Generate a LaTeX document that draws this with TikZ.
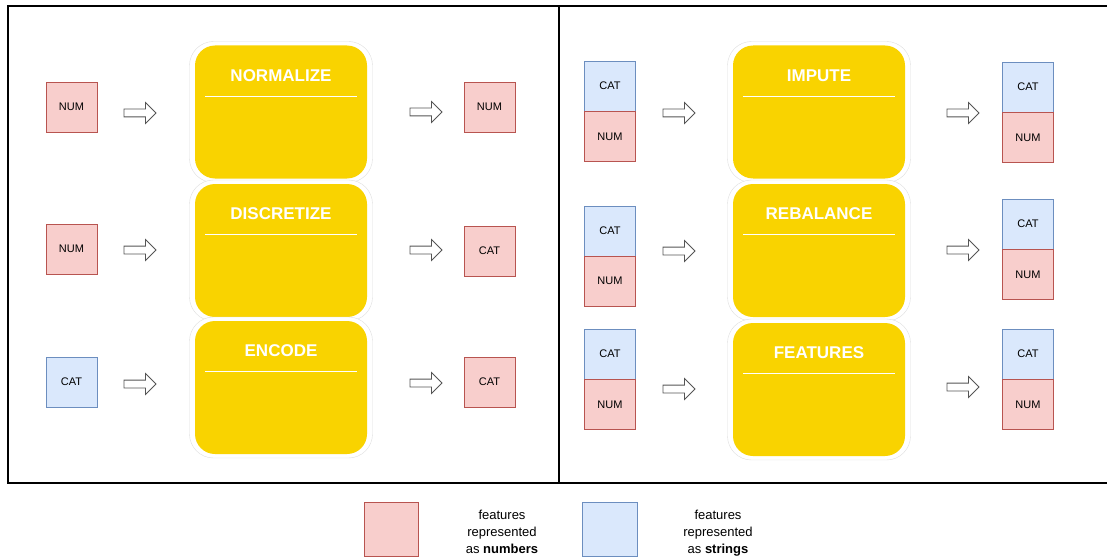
\documentclass[tikz,border=0pt]{standalone}
\usepackage{fontspec}
\setmainfont{Liberation Sans}
\usetikzlibrary{shapes.arrows}

\definecolor{numfill}{HTML}{F8CECC}
\definecolor{numdraw}{HTML}{B85450}
\definecolor{catfill}{HTML}{DAE8FC}
\definecolor{catdraw}{HTML}{6C8EBF}
\definecolor{stagefill}{HTML}{F9D300}
\definecolor{halodraw}{HTML}{DEDEDE}
\definecolor{arrowgray}{HTML}{555555}

\tikzset{
  feat/.style={draw, minimum width=51pt, minimum height=50pt, inner sep=0pt,
    font=\fontsize{11}{13}\selectfont},
  numbox/.style={feat, fill=numfill, draw=numdraw},
  catbox/.style={feat, fill=catfill, draw=catdraw},
  flow/.style={single arrow, draw=arrowgray, fill=white, line width=0.8pt,
    minimum height=32pt, inner sep=3.5pt, single arrow head extend=6.5pt,
    single arrow head indent=0pt},
  halo/.style={draw=halodraw, fill=white, rounded corners=24pt,
    minimum width=183pt, minimum height=141pt, inner sep=0pt},
  stage/.style={fill=stagefill, rounded corners=20pt,
    minimum width=172pt, minimum height=133pt, inner sep=0pt},
  stagetitle/.style={text=white, font=\fontsize{17}{20}\selectfont\bfseries},
  frame/.style={line width=2.5pt, black},
  legend/.style={align=center, anchor=north, inner sep=0pt,
    font=\fontsize{13}{17}\selectfont}
}

% one pipeline step: name, centre x, centre y, title
\newcommand{\stepblock}[4]{%
  \node[halo] (#1h) at (#2,#3) {};
  \node[stage] (#1) at (#2,#3) {};
  \node[stagetitle] (#1t) at ([yshift=-30pt]#1.north) {#4};
  \draw[white, line width=1pt] ([xshift=10pt,yshift=-51pt]#1.north west)
    -- ([xshift=-10pt,yshift=-51pt]#1.north east);
}

\begin{document}
\begin{tikzpicture}[x=1pt,y=-1pt]
\useasboundingbox (0,0) rectangle (1107,559);

% panel frames
\draw[frame] (8,6) rectangle (559,483);
\draw[frame] (559,6) -- (1110,6);
\draw[frame] (559,483) -- (1110,483);

% left panel: steps
\stepblock{norm}{281}{112}{NORMALIZE}
\stepblock{disc}{281}{250.5}{DISCRETIZE}
\stepblock{enc}{281}{387.5}{ENCODE}

% left panel: inputs, arrows, outputs
\node[numbox] (in1) at (71.5,107) {NUM};
\node[numbox] (in2) at (71.5,249) {NUM};
\node[catbox] (in3) at (71.5,382) {CAT};
\node[flow] (a1) at (138,113) {};
\node[flow] (a2) at (138,250) {};
\node[flow] (a3) at (138,384) {};
\node[flow] (b1) at (424,112) {};
\node[flow] (b2) at (424,250) {};
\node[flow] (b3) at (424,383) {};
\node[numbox] (out1) at (489.5,107) {NUM};
\node[numbox] (out2) at (489.5,251) {CAT};
\node[numbox] (out3) at (489.5,382) {CAT};

% right panel: steps
\stepblock{imp}{819}{112}{IMPUTE}
\stepblock{reb}{819}{250.5}{REBALANCE}
\stepblock{feat}{819}{389.5}{FEATURES}

% right panel: input stacks
\node[catbox] (ic1) at (610,86) {CAT};
\node[numbox] (in4) at (610,136.5) {NUM};
\node[catbox] (ic2) at (610,231) {CAT};
\node[numbox] (in5) at (610,281) {NUM};
\node[catbox] (ic3) at (610,354) {CAT};
\node[numbox] (in6) at (610,404.5) {NUM};

% right panel: arrows
\node[flow] (c1) at (677,113) {};
\node[flow] (c2) at (677,251) {};
\node[flow] (c3) at (677,389) {};
\node[flow] (d1) at (961,113) {};
\node[flow] (d2) at (961,250) {};
\node[flow] (d3) at (961,387) {};

% right panel: output stacks
\node[catbox] (oc1) at (1028,87) {CAT};
\node[numbox] (on1) at (1028,137.5) {NUM};
\node[catbox] (oc2) at (1028,224) {CAT};
\node[numbox] (on2) at (1028,274.5) {NUM};
\node[catbox] (oc3) at (1028,354) {CAT};
\node[numbox] (on3) at (1028,404.5) {NUM};

% legend
\node[numbox, minimum width=54pt, minimum height=54pt] (lnum) at (391,529.5) {};
\node[legend] (lnumt) at (502,510) {features\\represented\\as \textbf{numbers}};
\node[catbox, minimum width=55pt, minimum height=54pt] (lcat) at (609.5,529.5) {};
\node[legend] (lcatt) at (718,510) {features\\represented\\as \textbf{strings}};
\end{tikzpicture}
\end{document}
